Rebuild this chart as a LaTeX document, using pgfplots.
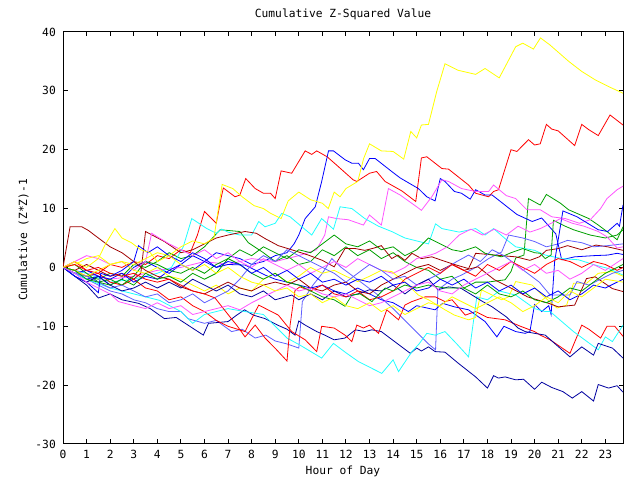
\documentclass[border=0pt]{standalone}
\usepackage{fontspec}
\setmainfont{DejaVu Sans Mono}
\usepackage{pgfplots}
\pgfplotsset{compat=1.18}
\definecolor{gred}{HTML}{FF0000}
\definecolor{ggreen}{HTML}{00A000}
\definecolor{gblue}{HTML}{0000FF}
\definecolor{gmag}{HTML}{FF55FF}
\definecolor{gcyan}{HTML}{22FFFF}
\definecolor{gyel}{HTML}{FFFF00}
\definecolor{gdred}{HTML}{A00000}
\definecolor{gslate}{HTML}{6060FF}
\definecolor{gnavy}{HTML}{0000A0}
\newcommand{\gf}{\fontsize{11.3}{13}\selectfont}
\begin{document}
\begin{tikzpicture}[x=1bp,y=1bp]
\fill[white] (0,0) rectangle (640,480);
\useasboundingbox (0,0) rectangle (640,480);
\begin{axis}[
  at={(63bp,36bp)}, anchor=south west,
  scale only axis, width=560bp, height=412bp,
  xmin=0, xmax=23.75, ymin=-30, ymax=40,
  xtick={0,1,...,23},
  xticklabels={0,1,2,3,4,5,6,7,8,9,10,11,12,13,14,15,16,17,18,19,20,21,22,23},
  ytick={-30,-20,-10,0,10,20,30,40},
  yticklabels={{-30},{-20},{-10},0,10,20,30,40},
  tick align=inside, major tick length=4.5bp,
  tick style={black, line width=1bp},
  axis line style={black, line width=1bp},
  xticklabel style={font=\gf, anchor=north, inner sep=0pt, yshift=-6bp},
  yticklabel style={font=\gf, anchor=east, inner sep=0pt, xshift=-7bp},
  every axis plot/.append style={line width=0.8bp, no marks},
  clip=true,
]
% R1 red top
\addplot[gred] coordinates {(0,0) (0.5,1) (1,-0.5) (1.5,-1) (2,0.5) (2.5,0) (3,1) (3.5,0.5) (4,2) (4.5,1.5) (5,3) (5.4,2.5) (5.7,5.5) (6,9.5) (6.5,7.5) (6.7,11.7) (6.8,13.5) (7.3,12) (7.5,12.3) (7.75,15.1) (8.15,13.4) (8.5,12.6) (8.8,12.6) (9.0,11.7) (9.25,16.4) (9.7,16) (10.27,19.8) (10.55,19.2) (10.76,19.8) (11.2,18.8) (11.6,17.4) (12.3,14.9) (12.46,14.6) (13,16) (13.3,16.3) (13.66,14.6) (14.37,13) (14.96,11.2) (15.2,18.6) (15.43,18.8) (16.07,16.8) (16.35,16.7) (17.2,14) (17.5,12.6) (18.05,12) (18.26,12.9) (18.47,13.2) (19,20) (19.25,19.7) (19.74,21.7) (20,20.8) (20.24,21) (20.5,24.3) (20.73,23.5) (21,23.2) (21.7,20.7) (22,24.3) (22.3,23.4) (22.7,22.4) (23.2,25.9) (23.75,24.2)};
% G1 green
\addplot[ggreen] coordinates {(0,0) (0.5,-1) (1,-1.5) (1.5,-2) (2,-1) (2.5,-1.5) (3,0.5) (3.5,0) (4,1) (4.5,2.5) (5,1.5) (5.5,2) (6,3.5) (6.66,6.4) (7.5,6.1) (7.86,4.2) (8.5,2.5) (9,1) (9.5,2) (10,0.5) (10.5,1) (11,3) (11.5,2) (12,3.5) (12.5,2) (13,3) (13.5,1.5) (14,2.5) (14.5,1) (15,0) (15.5,-0.5) (16,-2) (16.5,-1.5) (17,-3.5) (17.5,-2.5) (18,-2.5) (18.75,-2.1) (19,-0.7) (19.2,1.6) (19.55,2.1) (19.74,11.7) (20.24,10.6) (20.5,12.4) (21.1,10.9) (21.44,9.8) (22.3,8.3) (22.7,7.2) (23.1,6) (23.5,4.7) (23.75,6.9)};
% B1 blue
\addplot[gblue] coordinates {(0,0) (0.5,-1) (1,-2) (1.5,-1.5) (2,-3) (2.5,-2) (3,0) (3.5,1) (4,0) (4.5,-1) (5,0.5) (5.5,2) (6,1) (6.5,2.5) (7,2) (7.5,1.5) (8,0.5) (8.5,1) (9,2) (9.5,2.5) (9.8,4) (10,5.5) (10.27,8.3) (10.7,10.3) (10.97,14.6) (11.26,19.8) (11.47,19.8) (11.96,18.3) (12.25,17.7) (12.53,17.7) (12.74,16.6) (13,18.5) (13.24,18.5) (13.94,16.3) (14.3,15.2) (15.07,13.4) (15.43,12) (15.78,11.3) (16,15.1) (16.2,14.6) (16.6,12.9) (16.9,12.6) (17.27,11.6) (17.5,13.2) (17.9,12.3) (18.2,12.3) (19.25,9) (19.9,7.8) (20.3,8.4) (20.9,5.7) (21.15,1.3) (21.7,1.8) (22.5,2) (23.1,2.1) (23.5,2.4) (23.75,2.2)};
% M1 magenta
\addplot[gmag] coordinates {(0,0) (1,-1) (2,-2) (3,-1.5) (4,-0.5) (5,0) (6,1) (7,0.5) (8,1.5) (9,1) (10,2) (10.75,3) (11.1,5.5) (11.26,8.6) (11.6,8.3) (12.1,8.1) (12.74,7.2) (13,8.9) (13.5,7.2) (13.8,13.4) (14.3,12.3) (15,10.3) (15.2,9.7) (15.64,12) (16.07,14.9) (16.35,14.6) (16.9,13.4) (17.5,12.9) (18.05,12.9) (18.26,14) (18.8,12.2) (19.2,11.7) (19.67,9.8) (20.24,9.8) (20.73,8.6) (21.3,8.3) (21.9,7.5) (22.36,8.1) (22.8,10) (23.07,11.7) (23.5,13.2) (23.75,13.8)};
% C1 cyan
\addplot[gcyan] coordinates {(0,0) (1,-1) (2,-2.5) (3,-2) (4,-1) (4.6,0) (5.1,3.5) (5.46,8.3) (6.1,6.6) (6.5,5.8) (6.73,6.5) (7,6) (7.5,5.5) (8,5.5) (8.3,7.8) (8.57,6.9) (9,7.5) (9.28,9.2) (9.63,8.6) (10.13,6.9) (10.55,5.5) (10.97,8.3) (11.47,6.5) (11.75,10.3) (12.25,10) (12.8,8.3) (13.38,7) (13.94,6.1) (14.5,5) (15,4.5) (15.5,4) (15.8,7.4) (16.07,6.6) (16.8,6) (17.5,6.6) (17.9,5.5) (18.26,6.6) (18.75,4.9) (19.2,3.5) (20,2.9) (20.45,2.1) (21.15,1.5) (21.86,1.3) (22.57,0.4) (23.14,-0.2) (23.75,-1.3)};
% D1 dark red
\addplot[gdred] coordinates {(0,0) (0.5,-0.5) (1,0.5) (1.5,-0.5) (2,-1.5) (2.5,-1) (3,-2) (3.3,-1) (3.5,6.1) (4.3,4.4) (5,2.5) (5.5,3) (6,4) (6.5,5) (7,5.5) (7.72,6.1) (8.2,5.8) (8.57,4.9) (9.13,3.7) (9.7,3) (10.4,2.1) (11,1.2) (11.5,0.1) (11.96,3.2) (12.4,3.2) (12.8,2.9) (13.2,3.3) (13.5,3.7) (13.94,1.5) (14.2,2.1) (14.5,1.2) (14.8,2.4) (15.2,1.5) (15.64,1.8) (16,1.3) (16.6,0.5) (17.2,-0.2) (17.5,2.4) (18.3,2.1) (19.2,1.8) (19.8,1.2) (20.2,1.8) (20.5,2.9) (21,3.2) (21.4,3.7) (22,3) (22.6,3.8) (23.1,3.5) (23.75,2.9)};
% S1 slate
\addplot[gslate] coordinates {(0,0) (0.5,-1) (1,-2) (1.5,-3) (2,-4) (2.5,-4.5) (3,-5.5) (3.5,-6) (4,-7) (4.5,-7.5) (5,-7.5) (5.3,-8.7) (6,-9.5) (6.5,-9) (7.15,-10.9) (7.6,-10.5) (8.15,-12) (8.6,-11.5) (9,-12.5) (9.5,-13) (10,-13.7) (10.15,-5.8) (10.6,-3) (11,-1) (11.4,1.5) (11.8,0) (12.3,-1.5) (12.8,-3) (13.3,-4.5) (14,-7) (14.5,-9) (15,-11) (15.5,-13) (15.8,-14) (15.9,-3.8) (16.5,-2) (16.9,-1.3) (17.5,0) (18.05,1.5) (18.6,2.6) (18.9,5.5) (19.5,5) (20,4.4) (20.5,3.5) (21,4) (21.4,4.6) (22,4.2) (22.5,3.5) (23.1,3.7) (23.75,4)};
% N1 navy bottom
\addplot[gnavy] coordinates {(0,0) (0.5,-1.5) (1,-3) (1.5,-5.2) (2,-4.5) (2.5,-5.5) (3.2,-6.1) (3.7,-7) (4.3,-8.7) (4.8,-8.5) (5.3,-9.8) (5.95,-11.5) (6.17,-9.5) (7,-9.2) (7.37,-8.1) (7.7,-7.2) (8.07,-8.1) (8.57,-8.7) (9.1,-9.8) (9.5,-10.5) (9.84,-11.5) (10,-9.1) (10.27,-9.8) (10.76,-10.9) (11.1,-11.5) (11.5,-12.3) (11.96,-12) (12.4,-10.6) (12.8,-10.9) (13.1,-10.6) (13.5,-10.9) (14.73,-14.6) (15,-13.7) (15.2,-14.2) (15.5,-13.5) (15.78,-14.3) (16.2,-14.4) (16.77,-16.3) (17.5,-18.6) (18,-20.5) (18.26,-18.4) (18.47,-18.8) (18.75,-18.6) (19.2,-19.1) (19.53,-19) (20,-20.7) (20.3,-19.5) (20.73,-20.4) (21.2,-21.1) (21.6,-22.2) (22,-21.1) (22.5,-22.7) (22.7,-19.9) (23.14,-20.5) (23.5,-20.1) (23.75,-21.2)};
% R2 red lower
\addplot[gred] coordinates {(0,0) (0.5,-0.5) (1,-1.5) (1.5,-1) (2,-2.5) (2.5,-3) (3,-2) (3.5,-3.5) (4,-4) (4.5,-5.5) (5,-5) (5.5,-6.5) (6,-7.5) (6.5,-9) (7,-10) (7.72,-10.9) (8.3,-6.4) (9.13,-8.1) (9.7,-10.9) (10.27,-12.3) (10.76,-14.3) (10.97,-10) (11.5,-10.3) (11.96,-11.5) (12.25,-12.6) (12.46,-9.8) (12.74,-10.3) (13,-9.8) (13.38,-11.2) (13.73,-7.2) (14.23,-8.9) (14.5,-6.4) (14.8,-5.8) (15.36,-5) (15.78,-5) (16.2,-5.8) (16.5,-5.5) (17.06,-8.1) (17.5,-7.5) (18,-8.5) (18.75,-8.9) (19.4,-10) (20,-10.9) (20.24,-11.5) (20.66,-12.3) (21.5,-14.6) (22,-9.8) (22.3,-10.5) (22.8,-12) (23.07,-10) (23.4,-10) (23.75,-11.7)};
% G2 green
\addplot[ggreen] coordinates {(0,0) (0.5,0.5) (1,-1) (1.5,-2.5) (2,-2) (2.5,-3) (3,-1.5) (3.5,1) (4,0.5) (4.5,-0.5) (5,-1) (5.5,0) (6,-1) (6.5,0.5) (7,1.5) (7.5,3) (8,2) (8.5,3.5) (9,2.5) (9.5,1.5) (10,3) (10.5,2.5) (11,4) (11.5,5.5) (12,4) (12.5,3.5) (13,4.5) (13.5,3) (14,3.5) (14.5,2) (15,3) (15.5,5) (16,4) (16.5,3) (16.9,2.7) (17.5,3.5) (17.9,2.4) (18.6,1.8) (19,2.5) (19.5,3.2) (20,2.5) (20.24,2.4) (20.45,1.5) (20.7,2.1) (20.8,8) (21.3,7) (21.65,6.4) (22.36,5.5) (23,5) (23.5,5.5) (23.75,6.4)};
% B2 blue
\addplot[gblue] coordinates {(0,0) (0.5,-1) (1,-0.5) (1.5,-1.5) (2,-2) (2.5,-1) (3,-2.5) (3.5,-1.5) (4,-2) (4.5,-0.5) (5,0.5) (5.5,-0.5) (6,1) (6.5,0) (7,0.5) (7.72,0.4) (8.57,-1.3) (9,-2) (9.5,-2.5) (10,-3) (10.5,-3.5) (11,-3) (11.5,-4) (12,-4.5) (12.5,-3.5) (13,-4.5) (13.5,-5.5) (14,-6) (14.65,-7.5) (15,-6.5) (15.78,-7.2) (16.1,-6.1) (16.6,-6.7) (17.2,-7.2) (17.9,-9.2) (18.4,-11.8) (18.7,-10) (19.2,-10.9) (19.6,-11.2) (19.8,-10.9) (20,-6.3) (20.3,-7.5) (20.6,-6.5) (20.7,-8) (20.85,1) (21.2,9.6) (21.8,8.6) (22.7,6.4) (23.1,6.1) (23.5,7.5) (23.6,7) (23.75,10.6)};
% M2 magenta
\addplot[gmag] coordinates {(0,0) (0.5,1) (1,2) (1.5,1.5) (2,0.5) (2.5,1) (3,-0.5) (3.5,1) (3.76,5.8) (4,5.2) (4.5,4) (5,3) (5.5,2) (6,3) (6.5,1.5) (7,2.5) (7.5,1) (8,0) (8.5,1.5) (9,0.5) (9.5,-0.5) (10,0.5) (10.5,-1) (11,0) (11.5,1) (12,0) (12.5,1.5) (13,0.5) (13.5,-0.5) (14,-1) (14.5,0) (15,1.5) (15.5,2) (15.8,2.4) (16.3,3.5) (16.8,5.5) (17.3,6.5) (17.8,5.5) (18.3,6.5) (18.8,5.5) (19.3,7) (19.8,6) (20.24,6.6) (20.7,7.5) (21.1,8.3) (21.6,7.5) (22.1,7) (22.7,6.1) (23.07,5.2) (23.5,3.3) (23.75,3.5)};
% C2 cyan
\addplot[gcyan] coordinates {(0,0) (0.5,-1) (1,-2) (2,-3.5) (3,-4.5) (4.1,-5.6) (5,-7.5) (5.5,-9.5) (6,-8) (7,-7) (7.72,-7.5) (8.5,-8) (9,-10) (9.5,-12) (10.05,-13.2) (10.97,-15.4) (11.47,-12.9) (12,-14.5) (12.53,-16) (13.52,-18) (14,-15.7) (14.23,-17.7) (14.8,-14.3) (15.1,-13) (15.43,-11.2) (15.78,-11.5) (16.2,-10.9) (16.7,-13) (17.2,-15.2) (17.55,-5) (18,-5.5) (18.5,-4) (19.2,-4.7) (20,-7) (20.45,-7.5) (20.66,-7.5) (21.65,-10.9) (22.7,-14) (23,-11.8) (23.3,-12.6) (23.75,-9.8)};
% Y1 yellow top
\addplot[gyel] coordinates {(0,0) (0.5,-0.5) (1,-1.5) (1.5,-0.5) (2,0.5) (2.5,1) (3,0.5) (3.5,1.5) (4,2.5) (4.5,2) (5,3.5) (5.5,4.5) (6,4) (6.4,5) (6.75,14.1) (7.2,13.4) (7.6,12) (8.1,10.5) (8.5,10) (8.8,9.2) (9.25,8.3) (9.55,11.3) (10,12.8) (10.5,11.5) (11,10.9) (11.25,10) (11.5,12.8) (11.75,12) (12,13.4) (12.5,14.6) (12.75,18.5) (13,21) (13.5,19.8) (14,19.7) (14.45,18.4) (14.75,23.1) (15,22) (15.2,24.2) (15.5,24.3) (15.85,29.9) (16.2,34.6) (16.75,33.5) (17.5,32.8) (17.9,33.8) (18.5,32.2) (19.2,37.5) (19.5,38.1) (19.95,37.1) (20.25,39) (20.65,37.8) (21.45,35) (22,33.3) (22.6,31.8) (23.15,30.7) (23.75,29.6)};
% Y2 yellow
\addplot[gyel] coordinates {(0,0) (0.5,0.5) (1,1.5) (1.5,2) (2,0.5) (2.5,1) (3,-0.5) (3.5,-1) (4,0) (4.5,-1.5) (5,-2) (5.5,-3) (6,-4) (6.5,-3) (7,-4.5) (7.5,-3.5) (8,-4) (8.5,-2) (9,-1) (9.5,-2.5) (10,-1.5) (10.5,0) (11,-1) (11.5,-0.5) (12,-1.5) (12.5,-2.4) (13,-1.5) (13.5,-0.5) (13.94,-0.7) (14.5,-2.5) (15.07,-4.7) (15.5,-5.5) (16.2,-7.2) (16.6,-8.1) (17.2,-8.9) (17.5,-8.5) (17.75,-3.8) (18.2,-4.7) (18.6,-5.5) (18.9,-5) (19.2,-2.4) (19.9,-3) (20.24,-4.4) (20.95,-6.9) (21.36,-6.4) (21.65,-2.7) (22.2,-2.7) (22.7,-1) (23.3,-0.7) (23.75,-1.5)};
% D2 dark red
\addplot[gdred] coordinates {(0,0) (0.3,6.9) (0.8,6.9) (1.07,6.3) (1.5,5) (2,3.5) (2.5,2.5) (3,1) (3.5,-0.5) (4,-1.5) (4.5,-2) (5,-3.3) (5.5,-4) (6,-4.5) (6.5,-3.5) (7,-2.5) (7.5,-3.5) (8,-4) (8.5,-3) (9,-2.5) (9.5,-3) (10,-2) (10.5,-3.5) (11,-4) (11.5,-3) (12,-2.5) (12.5,-4) (13,-4.5) (13.5,-3) (14,-2) (14.5,-1) (15,0) (15.5,0.5) (16,-0.5) (16.5,0.5) (17,-0.5) (17.6,0.1) (18.3,-2.1) (18.9,-3.3) (19.7,-5) (20.6,-6.1) (21,-6.7) (21.7,-6.4) (22.2,-1.9) (22.57,-1.6) (23.3,-3.6) (23.75,-4.1)};
% S2 slate
\addplot[gslate] coordinates {(0,0) (0.5,-1) (1,-1.5) (1.5,-2.5) (2,-3.5) (2.5,-3) (3,-4) (3.5,-5) (4,-4.5) (4.5,-6) (5,-5.5) (5.5,-4.5) (6,-6) (6.5,-5) (7,-4) (7.5,-2) (8,0.5) (8.5,2) (9,1) (9.5,3) (10,2) (10.5,1) (11,0) (11.5,-1) (12,-2.5) (12.5,-1) (13,0.5) (13.5,-0.5) (14,-2) (14.5,-1.5) (15,-3) (15.5,-2) (16,-1) (16.2,-0.2) (16.7,1) (17.2,2.1) (17.7,1) (18.2,3) (18.7,2) (19.2,0.5) (19.7,-1) (20.2,-2.5) (20.66,-4.7) (21.5,-4.7) (21.8,-2.4) (22.3,-3) (22.8,-2) (23.3,-1) (23.75,-0.5)};
% N2 navy
\addplot[gnavy] coordinates {(0,0) (0.5,-1.5) (1,-2.5) (1.5,-1.5) (2,-3) (2.5,-4) (3,-3.5) (3.5,-2.5) (4,-3.5) (4.5,-2.5) (5,-3.5) (5.5,-2) (6,-3) (6.5,-4) (7,-3) (7.5,-4.5) (8,-5) (8.5,-4) (9,-5.5) (9.7,-4.7) (10,-5.5) (10.5,-4.5) (11,-5.5) (11.5,-4) (12,-5) (12.5,-4.5) (13,-3.8) (13.5,-4) (14,-3) (14.5,-4.5) (15,-3) (15.5,-2) (15.9,-3.8) (16.35,-3.3) (16.9,-3.6) (17.8,-5.8) (18.2,-6.7) (18.8,-8.4) (19.3,-10.3) (19.6,-10.9) (20,-11.2) (20.45,-11.5) (21.5,-15.2) (22,-13.5) (22.5,-14.9) (22.7,-12.9) (23.3,-13.7) (23.75,-15.4)};
% R3 red
\addplot[gred] coordinates {(0,0) (0.5,0.5) (1,-0.5) (1.5,0) (2,-1) (2.5,-1.5) (3,-1) (3.5,-2) (4,-2.5) (4.5,-2) (5,-3) (5.5,-4) (6,-4.5) (6.45,-5.2) (7,-8) (7.4,-10) (7.72,-11.8) (8.15,-9.8) (8.57,-12) (9.06,-14) (9.5,-15.9) (9.63,-9.8) (9.84,-3.9) (10.05,-3.3) (10.5,-4) (11,-3) (11.5,-4.5) (12,-5) (12.5,-4) (13,-5.5) (13.5,-5) (14,-4) (14.5,-2) (15,-1) (15.5,0) (16,-1) (16.5,0.5) (17,-0.5) (17.5,-1.5) (18,0.5) (18.5,-0.5) (19,1) (19.5,0) (20,-1) (20.5,0.5) (21,1.5) (21.5,1) (22,0) (22.5,1) (23,0.5) (23.5,-0.5) (23.75,0)};
% G3 green
\addplot[ggreen] coordinates {(0,0) (0.5,-0.5) (1,-2) (1.5,-2.5) (2,-3) (2.5,-2) (3,-3) (3.5,-1) (4,-2) (4.5,-1.5) (5,-2.5) (5.5,-1) (6,-2) (6.5,-1) (7,1.5) (7.5,0.5) (8,-1) (8.5,-2) (9,-1) (9.5,-2.5) (10,-3) (10.5,-4) (11,-5) (11.5,-5.5) (11.96,-6.6) (12.25,-4.7) (12.6,-4.5) (13.1,-5.8) (13.66,-3.5) (14,-4) (14.5,-3) (15,-3.5) (15.5,-3) (16.2,-3.5) (17,-3.5) (17.5,-4.5) (18,-3) (18.5,-4.5) (19,-5) (19.5,-4) (20,-5.5) (20.5,-6) (21,-5) (21.5,-3.5) (22,-4) (22.5,-2.5) (23,-1) (23.75,0.5)};
% B3 blue
\addplot[gblue] coordinates {(0,0) (0.5,-1.5) (1,-2.5) (1.5,-4.3) (1.6,-1) (2,-1.5) (2.5,-0.5) (3,1) (3.2,3.7) (3.6,2.5) (4,3.5) (4.5,2) (5,1) (5.5,2.5) (6,1.5) (6.5,0) (7,1) (7.5,0.5) (8,-1) (8.5,0) (9,-1.5) (9.5,-0.5) (10,-2) (10.5,-1) (11,-2.5) (11.5,-2) (12,-3) (12.5,-2) (13,-2.5) (13.5,-1.5) (14,-3) (14.5,-2.5) (15,-4) (15.5,-3.5) (16,-2) (16.5,-3) (17,-2) (17.5,-3.5) (18,-2.5) (18.5,-4) (19,-3) (19.5,-4.5) (20,-3.5) (20.5,-5) (21,-4) (21.5,-5.5) (22,-4.5) (22.5,-3) (23,-3.5) (23.75,-2)};
% M3 magenta
\addplot[gmag] coordinates {(0,0) (0.5,-1) (1,-2.5) (1.5,-3.5) (2,-4.5) (2.35,-5.8) (3,-6.5) (3.5,-7) (4,-6) (4.5,-7) (5,-6.5) (5.5,-8) (6,-7.5) (6.5,-7) (7,-6.5) (7.5,-7.2) (8,-6) (8.5,-5) (9,-4) (9.5,-3) (10,-4) (10.5,-3.5) (11,-4.5) (11.5,-5) (12,-4.5) (12.5,-5.5) (13,-6.5) (13.5,-6) (14,-5) (14.5,-4) (15,-3) (15.5,-2.5) (16,-4) (16.5,-4.5) (17,-3) (17.5,-2) (18,-1) (18.5,0) (19,1) (19.5,-0.5) (20,0.5) (20.5,-1) (21,-0.5) (21.5,-2) (22,-1) (22.5,0.5) (23,-0.5) (23.75,1.5)};
% Y3 yellow
\addplot[gyel] coordinates {(0,0) (0.5,1) (1,0) (1.5,1.5) (1.78,3.8) (2.2,6.6) (2.5,5) (2.9,4.2) (3.3,3) (3.7,2.5) (4,1) (4.5,2) (5,0.5) (5.5,-0.5) (6,0.5) (6.5,-1) (7,0) (7.5,-1.5) (8,-2.5) (8.5,-3) (9,-4) (9.5,-3.5) (10,-5) (10.5,-4.5) (11,-6) (11.5,-5) (12,-6.5) (12.5,-7) (13,-6) (13.5,-7.5) (14,-6.5) (14.5,-8) (15,-7) (15.5,-6) (16,-6.5) (16.5,-5) (17,-6) (17.5,-7) (18,-6) (18.5,-5) (19,-6) (19.5,-7.5) (20,-6.5) (20.5,-5) (21,-6) (21.5,-4) (22,-5) (22.5,-3.5) (23,-2) (23.75,-2.5)};
\end{axis}
\node[font=\gf, anchor=base] at (343,462) {Cumulative Z-Squared Value};
\node[font=\gf, anchor=base] at (343,5) {Hour of Day};
\node[font=\gf, anchor=base, rotate=90] at (27,240) {Cumulative (Z*Z)-1};
\end{tikzpicture}
\end{document}
